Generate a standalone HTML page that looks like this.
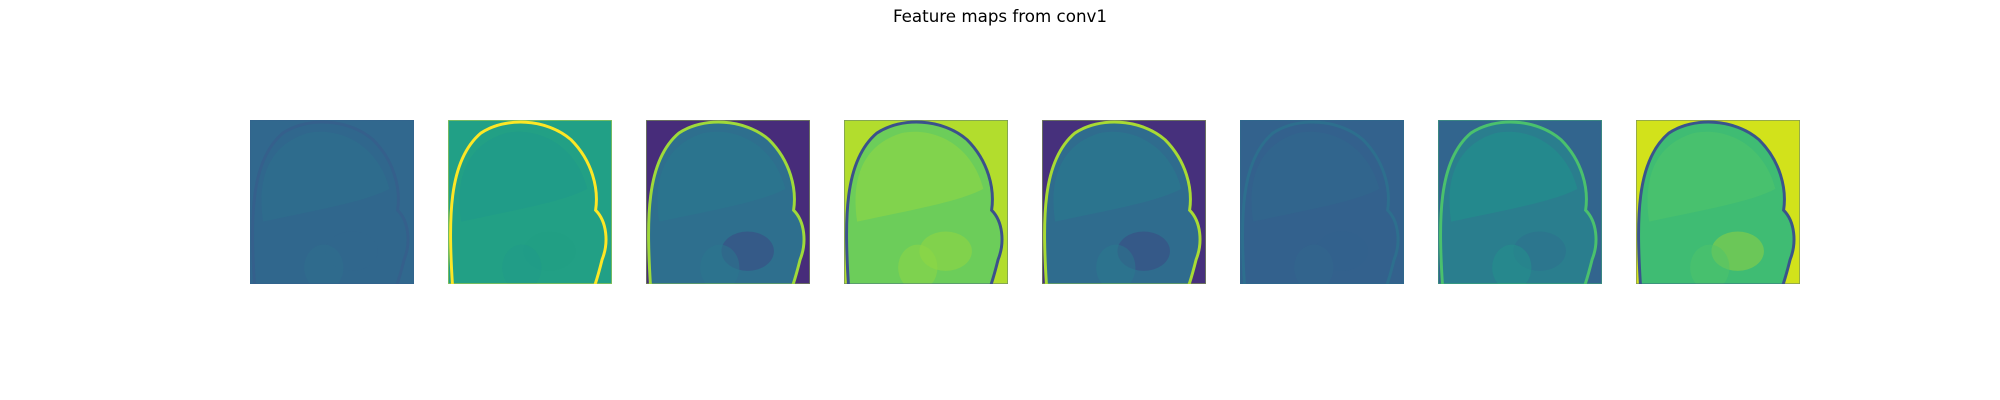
<!DOCTYPE html>
<html><head><meta charset="utf-8"><style>
html,body{margin:0;padding:0;background:#fff;}
svg{display:block;}
</style></head><body>
<svg width="2000" height="400" viewBox="0 0 2000 400" xmlns="http://www.w3.org/2000/svg">
<defs><clipPath id="pclip" clipPathUnits="userSpaceOnUse"><rect x="0" y="0" width="164" height="164"/></clipPath></defs>
<rect width="2000" height="400" fill="#fff"/>
<text x="1000" y="22" text-anchor="middle" font-family="DejaVu Sans, Liberation Sans, sans-serif" font-size="16.7" fill="#000">Feature maps from conv1</text>
<g id="panels"></g>
</svg>
<script>
const channels = ["ch1","ch2","ch3","ch4","ch5","ch6","ch7","ch8"];
const bgColors = ["#31688e","#21a086","#472c7a","#b2dd2d","#46307c","#33628d","#32658e","#d2e21b"];
const headColors = ["#30678d","#22a085","#2e6f8e","#6ccd5a","#2f6c8e","#33618d","#2a7e8e","#3fbc73"];
const rimColors = ["#35608c","#fde725","#9fda3a","#3b518b","#a8db34","#2d6f8e","#4ac16d","#3a548c"];
const innerColors = ["#2d708e","#1f9a8a","#2a788e","#8fd744","#297a8e","#31678e","#21918c","#4fc46a"];
const panelX0 = 250, panelPitch = 198, panelSize = 164, panelTop = 120;
const svgNS = "http://www.w3.org/2000/svg";
const panelsG = document.getElementById("panels");
function mk(tag, attrs){const e=document.createElementNS(svgNS,tag);for(const k in attrs)e.setAttribute(k,attrs[k]);return e;}
const headPath = "M0.03,1.05 C0.0,0.6 0.0,0.25 0.2,0.08 C0.35,-0.02 0.6,-0.01 0.75,0.12 C0.88,0.25 0.92,0.42 0.9,0.55 C0.97,0.62 0.98,0.75 0.94,0.85 C0.92,0.93 0.9,1 0.88,1.05";
const brainPath = "M0.08,0.62 C0.04,0.35 0.12,0.15 0.35,0.08 C0.55,0.04 0.78,0.15 0.85,0.42 C0.7,0.5 0.4,0.55 0.08,0.62 Z";
channels.forEach((c,i)=>{
  const px = panelX0 + i*panelPitch;
  const grp = mk("g",{transform:`translate(${px},${panelTop})`,"clip-path":"url(#pclip)"});
  
  
  grp.appendChild(mk("rect",{x:0,y:0,width:panelSize,height:panelSize,fill:bgColors[i]}));
  const inner = mk("g",{transform:`scale(${panelSize})`});
  inner.appendChild(mk("path",{d:headPath+" Z",fill:headColors[i]}));
  inner.appendChild(mk("path",{d:headPath,fill:"none",stroke:rimColors[i],"stroke-width":0.018}));
  inner.appendChild(mk("path",{d:brainPath,fill:innerColors[i],opacity:0.6}));
  inner.appendChild(mk("ellipse",{cx:0.62,cy:0.8,rx:0.16,ry:0.12,fill:bgColors[i],opacity:0.3}));
  inner.appendChild(mk("ellipse",{cx:0.45,cy:0.9,rx:0.12,ry:0.14,fill:innerColors[i],opacity:0.5}));
  grp.appendChild(inner);
  grp.appendChild(mk("rect",{x:0,y:0,width:panelSize,height:panelSize,fill:"none",stroke:rimColors[i],"stroke-width":1.5,opacity:0.5}));
  panelsG.appendChild(grp);
});
</script>
</body></html>
